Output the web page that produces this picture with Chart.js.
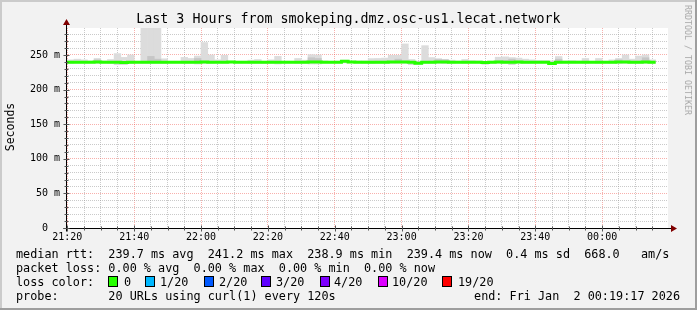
<!DOCTYPE html>
<html>
<head>
<meta charset="utf-8">
<script src="https://cdn.jsdelivr.net/npm/chart.js@4.4.1/dist/chart.umd.min.js"></script>
<style>
    body { margin: 0; background: #f2f2f2; }
    #frame { position: relative; width: 697px; height: 310px; background: #f2f2f2; overflow: hidden;
             font-family: 'DejaVu Sans Mono', monospace; color: #000; }
    #myChart { position: absolute; left: 0; top: 0; }
    .shade { position: absolute; }
    .txt { position: absolute; font-size: 11.8px; line-height: 14px; white-space: pre; }
    .box { position: absolute; width: 8px; height: 9px; border: 1px solid #000; }
    #title { position: absolute; left: 0; top: 11px; width: 697px; text-align: center;
             font-size: 13.3px; line-height: 16px; white-space: pre; }
    #ylabel { position: absolute; left: 10px; top: 127px; font-size: 11.5px; white-space: pre;
              transform: translate(-50%, -50%) rotate(-90deg); }
    #side { position: absolute; left: 688px; top: 60px; font-size: 8.3px; color: #a8a8a8; white-space: pre;
            transform: translate(-50%, -50%) rotate(90deg); }
</style>
</head>
<body>
<div id="frame">
    <canvas id="myChart" width="697" height="250"></canvas>
    <div id="title">Last 3 Hours from smokeping.dmz.osc-us1.lecat.network</div>
    <div id="ylabel">Seconds</div>
    <div id="side">RRDTOOL / TOBI OETIKER</div>
    <div id="legend"></div>
    <div class="shade" style="left:0;top:0;width:697px;height:2px;background:#cbcbcb"></div>
    <div class="shade" style="left:0;top:0;width:2px;height:310px;background:#cbcbcb"></div>
    <div class="shade" style="left:0;top:308px;width:697px;height:2px;background:#9e9e9e"></div>
    <div class="shade" style="left:695px;top:0;width:2px;height:310px;background:#9e9e9e"></div>
</div>

<script>
// 2 minute steps, first one starts at 21:18 (minutes are counted from 21:20)
const firstStep = -2;
const stepMinutes = 2;

// ms values, one per step
const medianRtt = [
    239.5, 239.5, 239.5, 239.6, 239.5, 239.7, 239.5, 239.5, 239.4, 239.3,
    239.4, 239.5, 239.5, 239.6, 239.5, 239.4, 239.5, 239.5, 239.6, 239.5,
    239.5, 239.7, 239.6, 239.5, 239.6, 239.8, 239.5, 239.5, 239.6, 239.5,
    239.5, 239.4, 239.6, 239.5, 239.5, 239.6, 239.5, 239.8, 239.7, 239.5,
    239.5, 239.6, 241.0, 239.8, 239.6, 239.5, 239.5, 239.6, 239.5, 239.7,
    239.8, 239.9, 239.6, 238.0, 239.5, 239.6, 239.7, 239.8, 239.5, 239.5,
    239.6, 239.5, 239.6, 239.3, 239.5, 239.7, 239.6, 239.5, 239.8, 239.6,
    239.5, 239.4, 239.5, 237.6, 239.5, 239.4, 239.5, 239.6, 239.5, 239.6,
    239.5, 239.5, 239.6, 239.7, 239.8, 239.6, 239.6, 239.7, 239.5
];
const smokeLow = [
    238.0, 238.0, 238.5, 238.5, 238.5, 238.0, 238.5, 238.0, 236.0, 236.0,
    237.5, 238.5, 238.0, 238.0, 238.0, 237.5, 238.5, 238.5, 238.0, 238.0,
    237.0, 238.0, 238.0, 238.5, 238.0, 238.5, 238.5, 238.5, 238.0, 238.0,
    237.5, 238.0, 237.0, 238.5, 238.5, 238.0, 238.0, 237.0, 237.0, 238.5,
    238.5, 238.5, 238.5, 238.5, 238.5, 238.0, 237.5, 238.0, 238.0, 238.0,
    238.0, 238.0, 236.0, 236.5, 238.0, 238.0, 238.0, 237.5, 238.0, 238.5,
    238.0, 238.5, 238.5, 236.5, 238.0, 238.0, 238.0, 236.0, 238.0, 238.0,
    238.0, 238.5, 238.5, 236.5, 238.0, 238.5, 238.5, 238.5, 238.0, 238.5,
    238.0, 238.5, 238.0, 237.5, 238.0, 238.0, 238.0, 238.0, 238.0
];
const smokeHigh = [
    243.0, 243.0, 244.0, 243.0, 241.5, 245.0, 241.5, 243.5, 252.0, 246.5,
    250.0, 241.0, 289.0, 289.0, 289.0, 244.5, 241.0, 241.0, 246.5, 245.0,
    248.5, 268.0, 250.0, 243.0, 249.5, 241.0, 241.0, 241.0, 242.5, 243.5,
    241.0, 243.0, 248.0, 241.0, 241.0, 245.0, 242.5, 250.5, 250.0, 241.5,
    240.5, 241.0, 242.5, 241.0, 241.5, 241.5, 244.8, 245.0, 245.5, 249.5,
    249.5, 266.0, 243.5, 241.0, 263.5, 246.3, 244.8, 243.8, 242.5, 241.3,
    243.5, 242.0, 241.5, 240.8, 241.3, 246.8, 247.3, 246.3, 245.5, 244.0,
    243.0, 242.0, 242.0, 241.5, 247.8, 241.5, 242.0, 241.5, 245.0, 241.0,
    245.0, 241.0, 243.0, 245.0, 250.0, 244.0, 248.5, 250.0, 243.0
];
// darker inner smoke, from the median up to this value
const smokeMid = [
    240.0, 240.0, 240.0, 240.0, 240.0, 243.0, 240.0, 240.0, 241.0, 240.5,
    240.0, 240.0, 240.0, 248.0, 244.0, 240.5, 240.0, 240.0, 240.0, 240.0,
    245.0, 240.5, 240.0, 240.0, 240.0, 240.0, 240.0, 240.0, 240.0, 240.5,
    240.0, 240.0, 240.5, 240.0, 240.0, 240.0, 240.0, 246.0, 245.0, 240.0,
    240.0, 240.0, 241.0, 240.0, 240.0, 240.0, 240.5, 241.0, 241.0, 240.5,
    244.0, 241.0, 240.0, 240.0, 240.0, 241.0, 243.5, 243.0, 240.0, 240.0,
    241.0, 240.0, 240.0, 240.0, 240.0, 241.5, 242.0, 244.0, 241.0, 240.0,
    240.0, 240.0, 240.0, 240.0, 244.0, 240.0, 240.0, 240.0, 241.0, 240.0,
    240.0, 240.0, 240.0, 243.0, 241.0, 241.0, 241.0, 246.0, 240.5
];

const timeLabels = ['21:20', '21:40', '22:00', '22:20', '22:40', '23:00', '23:20', '23:40', '00:00'];
const lossLabels = ['0', '1/20', '2/20', '3/20', '4/20', '10/20', '19/20'];
const lossColors = ['#26ff00', '#00b8ff', '#0059ff', '#5e00ff', '#7e00ff', '#dd00ff', '#ff0000'];

const gridMinor = 'rgba(150,150,150,0.5)';
const gridMajor = 'rgba(240,80,70,0.45)';

//bars are placed on the middle of their 2 minute step
function stepMiddle(i) {
    return firstStep + i * stepMinutes + stepMinutes / 2;
}

const outerSmoke = smokeHigh.map(function (v, i) { return {x: stepMiddle(i), y: [smokeLow[i], v]}; });
const innerSmoke = smokeMid.map(function (v, i) { return {x: stepMiddle(i), y: [medianRtt[i], v]}; });
const medianLine = [];
medianRtt.forEach(function (v, i) {
    medianLine.push({x: firstStep + i * stepMinutes, y: v});
    medianLine.push({x: firstStep + (i + 1) * stepMinutes, y: v});
});

//axis lines, small tick marks and the two red arrows
const rrdAxes = {
    id: 'rrdAxes',
    afterDatasetsDraw: function (chart) {
        const ctx = chart.ctx;
        const a = chart.chartArea;
        const xs = chart.scales.x;
        const ys = chart.scales.y;
        const y0 = Math.round(ys.getPixelForValue(0)) + 0.5;
        const x0 = Math.round(a.left) + 0.5;
        ctx.save();
        ctx.lineWidth = 1;
        ctx.strokeStyle = '#000';
        ctx.beginPath();
        ctx.moveTo(x0 - 3, y0);
        ctx.lineTo(a.right + 4, y0);
        ctx.moveTo(x0, y0 + 3);
        ctx.lineTo(x0, a.top - 4);
        ctx.stroke();

        ctx.strokeStyle = '#555';
        ctx.beginPath();
        xs.ticks.forEach(function (t) {
            const px = Math.round(xs.getPixelForValue(t.value)) + 0.5;
            const len = Math.round(t.value) % 20 === 0 ? 3 : 2;
            ctx.moveTo(px, y0 - len);
            ctx.lineTo(px, y0 + len);
        });
        ys.ticks.forEach(function (t) {
            const py = Math.round(ys.getPixelForValue(t.value)) + 0.5;
            const len = t.value % 50 === 0 ? 3 : 2;
            ctx.moveTo(x0 - len, py);
            ctx.lineTo(x0 + len, py);
        });
        ctx.stroke();

        ctx.fillStyle = '#800000';
        ctx.beginPath();
        ctx.moveTo(a.right + 9, y0);
        ctx.lineTo(a.right + 3, y0 - 3.5);
        ctx.lineTo(a.right + 3, y0 + 3.5);
        ctx.closePath();
        ctx.moveTo(x0, a.top - 9);
        ctx.lineTo(x0 - 3.5, a.top - 3);
        ctx.lineTo(x0 + 3.5, a.top - 3);
        ctx.closePath();
        ctx.fill();
        ctx.restore();
    }
};

//white canvas behind the graph
const plotBackground = {
    id: 'plotBackground',
    beforeDraw: function (chart) {
        const a = chart.chartArea;
        chart.ctx.save();
        chart.ctx.fillStyle = '#ffffff';
        chart.ctx.fillRect(a.left, a.top, a.right - a.left, a.bottom - a.top);
        chart.ctx.restore();
    }
};

const ctx = document.getElementById('myChart').getContext('2d');

const rttChart = new Chart(ctx, {
    type: 'bar',
    data: {
        datasets: [{
            type: 'line',
            data: medianLine,
            borderColor: lossColors[0],
            borderWidth: 3,
            pointRadius: 0,
            tension: 0,
            order: 0
        }, {
            data: innerSmoke,
            backgroundColor: '#c6c6c6',
            borderWidth: 0,
            barPercentage: 1,
            categoryPercentage: 1,
            grouped: false,
            order: 1
        }, {
            data: outerSmoke,
            backgroundColor: '#dcdcdc',
            borderWidth: 0,
            barPercentage: 1,
            categoryPercentage: 1,
            grouped: false,
            order: 2
        }]
    },
    options: {
        responsive: false,
        animation: false,
        events: [],
        layout: {padding: {top: 28, right: 29, left: 0, bottom: 0}},
        plugins: {legend: {display: false}, tooltip: {enabled: false}, title: {display: false}},
        scales: {
            x: {
                type: 'linear',
                offset: false,
                min: -0.4,
                max: 179.7,
                afterFit: function (scale) { scale.height = 22; },
                border: {display: false, dash: [1, 1]},
                grid: {
                    offset: false,
                    drawTicks: false,
                    color: function (c) { return c.tick && Math.round(c.tick.value) % 20 === 0 ? gridMajor : gridMinor; }
                },
                ticks: {
                    stepSize: 5,
                    includeBounds: false,
                    autoSkip: false,
                    maxRotation: 0,
                    padding: 3,
                    color: '#000',
                    font: {family: 'DejaVu Sans Mono', size: 10},
                    callback: function (v) {
                        const m = Math.round(v);
                        return m % 20 === 0 && timeLabels[m / 20] ? timeLabels[m / 20] : '';
                    }
                }
            },
            y: {
                min: 0,
                max: 289,
                afterFit: function (scale) { scale.width = 66; },
                border: {display: false, dash: [1, 1]},
                grid: {
                    drawTicks: false,
                    color: function (c) { return c.tick && c.tick.value % 50 === 0 ? gridMajor : gridMinor; }
                },
                ticks: {
                    stepSize: 10,
                    includeBounds: false,
                    autoSkip: false,
                    padding: 6,
                    color: '#000',
                    font: {family: 'DejaVu Sans Mono', size: 10},
                    callback: function (v) {
                        if (v % 50 !== 0) return '';
                        return v === 0 ? '0  ' : v + ' m';
                    }
                }
            }
        }
    },
    plugins: [plotBackground, rrdAxes]
});

//text legend under the graph
function addText(x, y, text, right) {
    const el = document.createElement('div');
    el.className = 'txt';
    if (right) {
        el.style.right = (697 - x) + 'px';
    } else {
        el.style.left = x + 'px';
    }
    el.style.top = (y - 7) + 'px';
    el.textContent = text;
    document.getElementById('legend').appendChild(el);
}

addText(16, 254, 'median rtt:  239.7 ms avg  241.2 ms max  238.9 ms min  239.4 ms now  0.4 ms sd  668.0   am/s');
addText(16, 268, 'packet loss: 0.00 % avg  0.00 % max  0.00 % min  0.00 % now');

addText(16, 282, 'loss color:');
const boxX = [108, 145, 203.5, 261, 320, 378, 442];
const boxLabelX = [123.5, 160, 218.7, 276, 334, 392, 458];
lossLabels.forEach(function (label, i) {
    const b = document.createElement('div');
    b.className = 'box';
    b.style.left = Math.round(boxX[i]) + 'px';
    b.style.top = '276px';
    b.style.background = lossColors[i];
    document.getElementById('legend').appendChild(b);
    addText(Math.round(boxLabelX[i]), 282, label);
});

addText(16, 296, 'probe:       20 URLs using curl(1) every 120s');
addText(680, 296, 'end: Fri Jan  2 00:19:17 2026', true);
</script>
</body>
</html>
